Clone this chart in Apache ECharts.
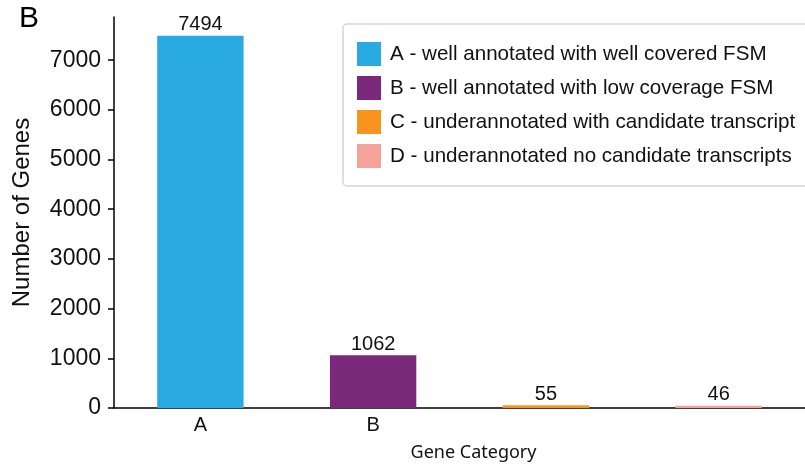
<!DOCTYPE html>
<html><head><meta charset="utf-8">
<script src="https://cdn.jsdelivr.net/npm/echarts@6/dist/echarts.min.js"></script>
<style>html,body{margin:0;padding:0;background:#fff}#c{width:805px;height:467px}</style>
</head><body><div id="c"></div>
<script>
const categories = ['A', 'B', 'C', 'D'];
const categoryLabels = ['A', 'B', '', ''];
const seriesNames = [
  'A - well annotated with well covered FSM',
  'B - well annotated with low coverage FSM',
  'C - underannotated with candidate transcript',
  'D - underannotated no candidate transcripts'
];
const values = [7494, 1062, 55, 46];
const colors = ['#29ABE2', '#7B2A7B', '#F7931E', '#F5A29A'];
const yTicks = [0, 1000, 2000, 3000, 4000, 5000, 6000, 7000];

const chart = echarts.init(document.getElementById('c'));
const series = seriesNames.map((name, i) => ({
  name: name,
  type: 'bar',
  stack: 'all',
  barWidth: '50%',
  data: values.map((v, j) => (j === i ? v : '-')),
  itemStyle: { color: colors[i] },
  label: { show: true, position: 'top', distance: 1, fontSize: 20, color: '#111', fontFamily: 'Liberation Sans' }
}));

chart.setOption({
  animation: false,
  textStyle: { fontFamily: 'Liberation Sans' },
  grid: { left: 114, top: 17, bottom: 59, right: -4, containLabel: false },
  xAxis: {
    type: 'category',
    data: categories,
    name: 'Gene Category',
    nameLocation: 'middle',
    nameGap: 36,
    nameTextStyle: { fontFamily: 'Noto Sans', fontSize: 18, color: '#111', padding: [0, 0, 0, 28] },
    axisLine: { lineStyle: { color: '#000', width: 1.5 } },
    axisTick: { alignWithLabel: true, length: 5, lineStyle: { color: '#000', width: 1.5 } },
    axisLabel: { fontSize: 20, color: '#111', margin: 7, formatter: (v, i) => categoryLabels[i] }
  },
  yAxis: {
    type: 'value',
    min: 0,
    max: 7869,
    name: 'Number of Genes',
    nameLocation: 'middle',
    nameGap: 80,
    nameTextStyle: { fontSize: 24, color: '#111' },
    splitLine: { show: false },
    axisLine: { show: true, lineStyle: { color: '#000', width: 1.5 } },
    axisTick: { show: true, length: 6, customValues: yTicks, lineStyle: { color: '#000', width: 1.5 } },
    axisLabel: { fontSize: 23, color: '#111', margin: 13, customValues: yTicks, formatter: v => String(v) }
  },
  legend: {
    data: seriesNames,
    orient: 'vertical',
    left: 343,
    top: 24,
    padding: [18, 80, 18, 14],
    itemWidth: 24,
    itemHeight: 24,
    itemGap: 10,
    icon: 'rect',
    borderColor: '#d5d5d5',
    borderWidth: 1.5,
    borderRadius: 4,
    textStyle: { fontSize: 20.6, color: '#111', padding: [0, 0, 0, 4] }
  },
  graphic: [{
    type: 'text',
    left: 19,
    top: 4,
    style: { text: 'B', fontSize: 30, fill: '#000', fontFamily: 'Liberation Sans' }
  }],
  series: series
});
</script></body></html>
